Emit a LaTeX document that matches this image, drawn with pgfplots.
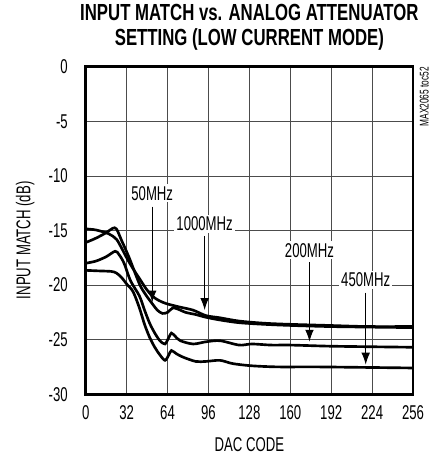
\documentclass[border=0pt]{standalone}
\usepackage{fontspec}
\setmainfont{Liberation Sans}[FakeStretch=0.66]
\newfontfamily\titlefont{Liberation Sans}[FakeStretch=0.72]
\usepackage{pgfplots}
\pgfplotsset{compat=1.18}
\usetikzlibrary{arrows.meta}

\newcommand{\lab}{\fontsize{15}{17}\selectfont}
\pgfplotsset{curve/.style={black, smooth, line width=2pt, mark=none}}

\begin{document}
\begin{tikzpicture}
\begin{axis}[
    scale only axis,
    width=246pt, height=246pt,
    xmin=0, xmax=256, ymin=-30, ymax=0,
    xtick={0,32,...,256}, ytick={-30,-25,...,0},
    major tick length=0pt,
    grid=major,
    major grid style={black!70, line width=0.7pt},
    axis line style={line width=2.2pt},
    clip=false,
    /pgf/number format/assume math mode=true,
    ticklabel style={font=\lab},
    xticklabel style={yshift=-5pt},
    yticklabel style={xshift=-10pt},
    xlabel={DAC CODE},
    ylabel={INPUT MATCH (dB)},
    label style={font=\lab},
    xlabel style={at={(axis description cs:0.5,-0.155)}, anchor=center},
    ylabel style={at={(axis description cs:-0.185,0.47)}, anchor=center},
]
% 1000MHz
\addplot[curve] coordinates {
(0,-14.85) (8,-14.95) (18,-15.3) (24,-15.8) (28,-16.6) (32,-17.5) (37,-18.5)
(42,-19.4) (47,-20.3) (52,-21.0) (57,-21.4) (63,-21.7) (73,-22.0) (84,-22.3)
(94,-22.8) (105,-23.0) (120,-23.3) (140,-23.5) (160,-23.6) (190,-23.7)
(220,-23.8) (256,-23.8)};
% 50MHz
\addplot[curve] coordinates {
(0,-16.1) (8,-15.7) (16,-15.2) (21,-14.8) (24,-14.85) (28,-15.9) (34,-17.5)
(42,-19.9) (47,-20.9) (52,-21.7) (56,-22.3) (60,-22.6) (64,-22.5) (68,-22.1)
(72,-22.2) (78,-22.5) (86,-22.7) (94,-22.95) (105,-23.2) (120,-23.45)
(140,-23.6) (160,-23.7) (190,-23.8) (220,-23.85) (256,-23.9)};
% 200MHz
\addplot[curve] coordinates {
(0,-18.0) (8,-17.8) (16,-17.4) (23,-16.9) (26,-17.2) (30,-18.0) (35,-19.6)
(42,-21.0) (46,-22.3) (50,-23.5) (54,-24.4) (58,-25.1) (62,-25.4) (65,-24.8)
(67,-24.4) (70,-24.7) (74,-25.1) (84,-25.4) (94,-25.2) (105,-25.1)
(120,-25.5) (130,-25.4) (145,-25.5) (160,-25.5) (190,-25.6) (220,-25.65)
(256,-25.7)};
% 450MHz
\addplot[curve] coordinates {
(0,-18.65) (10,-18.7) (20,-18.75) (24,-18.9) (28,-19.3) (32,-19.9) (37,-20.6)
(42,-22.1) (46,-23.6) (50,-24.8) (54,-25.7) (58,-26.4) (62,-26.9) (65,-26.4)
(67,-26.0) (71,-26.3) (76,-26.6) (86,-27.0) (94,-27.0) (105,-26.9)
(115,-27.2) (130,-27.4) (150,-27.5) (180,-27.5) (220,-27.55) (256,-27.6)};

% annotations
\tikzset{lbl/.style={fill=white, inner sep=1.5pt, font=\lab},
         arr/.style={line width=0.9pt, -{Latex[length=9pt,width=6.5pt]}}}
\draw[arr] (axis cs:52,-12.8) -- (axis cs:52,-21.6);
\node[lbl] at (axis cs:52,-11.6) {50MHz};
\draw[arr] (axis cs:93,-15.5) -- (axis cs:93,-22.3);
\node[lbl] at (axis cs:93,-14.4) {1000MHz};
\draw[arr] (axis cs:175,-17.9) -- (axis cs:175,-25.2);
\node[lbl] at (axis cs:175,-16.8) {200MHz};
\draw[arr] (axis cs:219,-20.7) -- (axis cs:219,-27.3);
\node[lbl] at (axis cs:219,-19.5) {450MHz};

\node[rotate=90, anchor=north east, inner sep=0pt, font=\fontsize{9.5}{10}\selectfont]
    at (rel axis cs:1.02,1.0) {MAX2065 toc52};

\node[align=center, font=\titlefont\bfseries\fontsize{17.5}{19}\selectfont]
    at (rel axis cs:0.5,1.12) {INPUT MATCH vs. ANALOG ATTENUATOR\\SETTING (LOW CURRENT MODE)};

\path (rel axis cs:-0.262,1.201) rectangle (rel axis cs:1.0915,-0.192);
\end{axis}
\end{tikzpicture}
\end{document}
